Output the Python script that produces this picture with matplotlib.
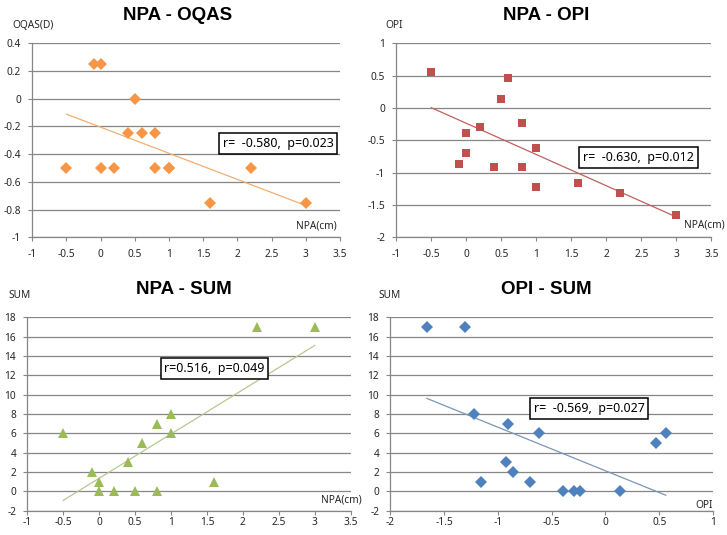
import numpy as np
import matplotlib
matplotlib.use("Agg")
import matplotlib.pyplot as plt

# ---------------- data ----------------
# subjects: NPA (cm), OPI, SUM
npa = [3.0, 2.2, 1.0, 1.6, 0.8, 0.4, -0.1, 0.0, 1.0, 0.0, 0.2, 0.8, 0.5, 0.6, -0.5]
opi = [-1.66, -1.31, -1.22, -1.16, -0.91, -0.92, -0.86, -0.70, -0.62, -0.39, -0.29, -0.24, 0.14, 0.47, 0.56]
sum_ = [17, 17, 8, 1, 7, 3, 2, 1, 6, 0, 0, 0, 0, 5, 6]

# NPA - OQAS panel
oqas_npa = [-0.1, 0.0, 0.5, 0.4, 0.6, 0.8, -0.5, 0.0, 0.2, 0.8, 1.0, 1.0, 2.2, 1.6, 3.0]
oqas = [0.25, 0.25, 0.0, -0.25, -0.25, -0.25, -0.5, -0.5, -0.5, -0.5, -0.5, -0.5, -0.5, -0.75, -0.75]

titles = ["NPA - OQAS", "NPA - OPI", "NPA - SUM", "OPI - SUM"]
ylabels = ["OQAS(D)", "OPI", "SUM", "SUM"]
xlabels = ["NPA(cm)", "NPA(cm)", "NPA(cm)", "OPI"]
stats = ["r=  -0.580,  p=0.023", "r=  -0.630,  p=0.012", "r=0.516,  p=0.049", "r=  -0.569,  p=0.027"]

xticks_npa = [-1, -0.5, 0, 0.5, 1, 1.5, 2, 2.5, 3, 3.5]
xticks_opi = [-2, -1.5, -1, -0.5, 0, 0.5, 1]
yticks_oqas = [-1, -0.8, -0.6, -0.4, -0.2, 0, 0.2, 0.4]
yticks_opi = [-2, -1.5, -1, -0.5, 0, 0.5, 1]
yticks_sum = [-2, 0, 2, 4, 6, 8, 10, 12, 14, 16, 18]

# ---------------- figure ----------------
W, H = 727, 535
plt.rcParams['font.family'] = ['Noto Sans', 'DejaVu Sans']
fig = plt.figure(figsize=(W / 100, H / 100), dpi=100)

def fx(x):
    return x / W

def fy(y):
    return 1 - y / H

def add_ax(x0, y0, x1, y1):
    return fig.add_axes([fx(x0), fy(y1), fx(x1 - x0), (y1 - y0) / H])

grid_c = '#868686'
txt_c = '#262626'

panels = [
    dict(box=(32.3, 43.3, 340, 237.3), x=oqas_npa, y=oqas, xt=xticks_npa, yt=yticks_oqas,
         marker='D', ms=6.3, mc='#F79646', lc='#F2AE72', xpad=5.5),
    dict(box=(396.3, 43.3, 711.3, 237.3), x=npa, y=opi, xt=xticks_npa, yt=yticks_opi,
         marker='s', ms=6.3, mc='#C0504D', lc='#C0605D', xpad=5.5),
    dict(box=(27.3, 317.3, 350.7, 510.7), x=npa, y=sum_, xt=xticks_npa, yt=yticks_sum,
         marker='^', ms=7, mc='#9BBB59', lc='#B8C890', xpad=1.5),
    dict(box=(390.3, 317.3, 713, 510.7), x=opi, y=sum_, xt=xticks_opi, yt=yticks_sum,
         marker='D', ms=6.3, mc='#4F81BD', lc='#7896B8', xpad=1.5),
]

title_pos = [(178, 16), (546, 16), (184, 290), (546, 290)]
ylab_pos = [(12, 25), (385, 25), (8, 296), (378, 296)]
xlab_pos = [(337, 226), (725, 225), (362, 500), (713, 505)]
box_pos = [(278, 143.5), (638.5, 157.5), (214.5, 368.5), (589, 408.5)]

for i, p in enumerate(panels):
    ax = add_ax(*p['box'])
    ax.set_xlim(p['xt'][0], p['xt'][-1])
    ax.set_ylim(p['yt'][0], p['yt'][-1])
    ax.set_xticks(p['xt'])
    ax.set_yticks(p['yt'])
    ax.set_xticklabels([f"{v:g}" for v in p['xt']])
    ax.set_yticklabels([f"{v:g}" for v in p['yt']])
    ax.grid(axis='y', color=grid_c, linewidth=0.9)
    ax.set_axisbelow(True)
    for s in ['top', 'right']:
        ax.spines[s].set_visible(False)
    for s in ['left', 'bottom']:
        ax.spines[s].set_color(grid_c)
        ax.spines[s].set_linewidth(0.9)
    ax.tick_params(axis='both', colors=grid_c, labelcolor=txt_c, labelsize=7.3, length=3, width=0.8)
    ax.tick_params(axis='y', pad=5)
    ax.tick_params(axis='x', pad=p['xpad'])

    xs = np.array(p['x'], dtype=float)
    ys = np.array(p['y'], dtype=float)
    k, b = np.polyfit(xs, ys, 1)
    xl = np.array([xs.min(), xs.max()])
    ax.plot(xl, k * xl + b, color=p['lc'], linewidth=0.9, zorder=2)
    ax.plot(xs, ys, linestyle='none', marker=p['marker'], markersize=p['ms'],
            color=p['mc'], markeredgewidth=0, zorder=3)

    tx, ty = title_pos[i]
    fig.text(fx(tx), fy(ty), titles[i], ha='center', va='center', fontsize=13.5,
             fontweight='bold', color='black', family=['Liberation Sans', 'DejaVu Sans'])
    lx, ly = ylab_pos[i]
    fig.text(fx(lx), fy(ly), ylabels[i], ha='left', va='center', fontsize=7.3, color=txt_c)
    xx, xy = xlab_pos[i]
    fig.text(fx(xx), fy(xy), xlabels[i], ha='right', va='center', fontsize=7.3, color=txt_c)
    bx, by = box_pos[i]
    fig.text(fx(bx), fy(by), stats[i], ha='center', va='center', fontsize=9, color='black',
             bbox=dict(boxstyle='square,pad=0.3', facecolor='white', edgecolor='black', linewidth=1.1),
             zorder=5)

fig.savefig('out.png', dpi=100)
